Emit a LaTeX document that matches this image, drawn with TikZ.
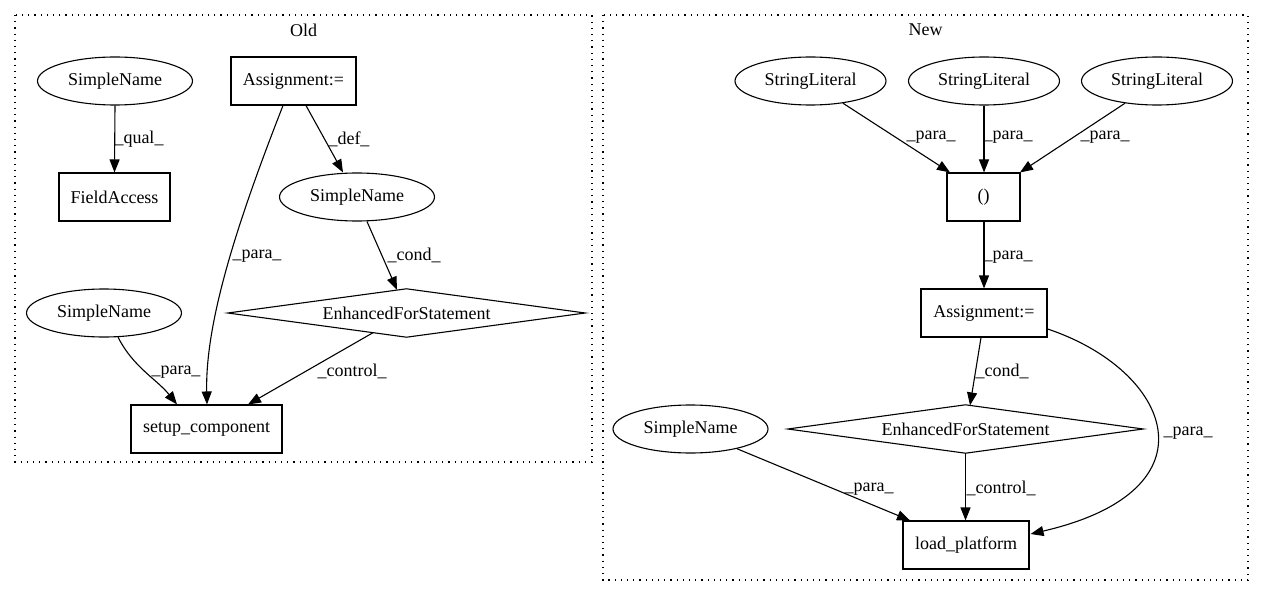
\documentclass[tikz,border=0pt]{standalone}
\usepackage{fontspec}
\setmainfont{Liberation Serif}
\usetikzlibrary{arrows.meta,shapes.geometric}
\begin{document}
\begin{tikzpicture}[x=1pt,y=-1pt,
  every node/.style={font=\fontsize{18}{21}\selectfont, inner sep=0pt},
  ell/.style={draw, ellipse, line width=1.1pt, minimum width=155pt, minimum height=48pt},
  box/.style={draw, rectangle, line width=1.1pt, minimum height=48pt},
  dia/.style={rectangle, minimum height=48pt},
  lbl/.style={},
  edge/.style={line width=1.1pt, -{Triangle[length=13pt,width=10pt]}},
  cluster/.style={line width=1.1pt, dash pattern=on 1.2pt off 5pt}]
\useasboundingbox (0,0) rectangle (1265,596);

% ---------- Old ----------
\draw[cluster] (15,15) rectangle (592,462);
\node (told) at (303.5,30) {Old};
\node[ell] (osn1) at (115,81) {SimpleName};
\node[box, minimum width=111pt] (ofa) at (114.5,197) {FieldAccess};
\node[box, minimum width=125pt] (oas) at (293.5,81) {Assignment:=};
\node[ell] (osn2) at (357,197) {SimpleName};
\node[dia, minimum width=357pt] (ofor) at (406.5,313) {EnhancedForStatement};
\draw[line width=1.1pt] (ofor.west) -- (ofor.north) -- (ofor.east) -- (ofor.south) -- cycle;
\node[ell] (osn3) at (104,313) {SimpleName};
\node[box, minimum width=151pt] (osc) at (206.5,429) {setup\_component};

\draw[edge] (osn1.south) -- (ofa.north);
\node[lbl] (lq) at (139,139) {\_qual\_};
\draw[edge] ([xshift=12.5pt]oas.south) -- ([xshift=-14pt]osn2.north);
\node[lbl] (ld) at (349,139) {\_def\_};
\draw[edge] ([xshift=-10.5pt]oas.south) .. controls +(-43,110) and +(-2,-85) .. ([xshift=0.5pt]osc.north);
\node[lbl] (lp1) at (257,256) {\_para\_};
\draw[edge] ([xshift=10pt]osn2.south) -- ([xshift=-9.5pt,yshift=-1pt]ofor.north);
\node[lbl] (lc1) at (414,255) {\_cond\_};
\draw[edge] ([xshift=14pt,yshift=0.5pt]osn3.south) .. controls +(15,30) and +(-20,-25) .. ([xshift=-29.5pt]osc.north);
\node[lbl] (lp2) at (176,372) {\_para\_};
\draw[edge] ([xshift=-33.5pt,yshift=4.5pt]ofor.south) -- ([xshift=41.5pt]osc.north);
\node[lbl] (lct1) at (352,371) {\_control\_};

% ---------- New ----------
\draw[cluster] (603,15) rectangle (1248,580);
\node (tnew) at (925.5,30) {New};
\node[ell, minimum width=151pt] (nsl1) at (810.5,81) {StringLiteral};
\node[ell, minimum width=151pt] (nsl2) at (984,81) {StringLiteral};
\node[ell, minimum width=151pt] (nsl3) at (1157,81) {StringLiteral};
\node[box, minimum width=73pt] (npar) at (983.5,197) {()};
\node[box, minimum width=126pt] (nas) at (984,313) {Assignment:=};
\node[dia, minimum width=355pt] (nfor) at (965.5,429) {EnhancedForStatement};
\draw[line width=1.1pt] (nfor.west) -- (nfor.north) -- (nfor.east) -- (nfor.south) -- cycle;
\node[ell] (nsn) at (690.5,429) {SimpleName};
\node[box, minimum width=126pt] (nlp) at (966,545) {load\_platform};

\draw[edge] ([xshift=32.5pt,yshift=2.3pt]nsl1.south) -- ([xshift=-33.5pt]npar.north);
\node[lbl] (ln1) at (931,137) {\_para\_};
\draw[edge] (nsl2.south) -- ([xshift=0.5pt]npar.north);
\node[lbl] (ln2) at (1008,137) {\_para\_};
\draw[edge] ([xshift=-32pt,yshift=2.3pt]nsl3.south) -- ([xshift=36.5pt]npar.north);
\node[lbl] (ln3) at (1105,137) {\_para\_};
\draw[edge] ([xshift=0.5pt]npar.south) -- (nas.north);
\node[lbl] (ln4) at (1008,257) {\_para\_};
\draw[edge] ([xshift=-3pt]nas.south) -- ([xshift=4.5pt,yshift=-0.6pt]nfor.north);
\node[lbl] (ln5) at (1002,371) {\_cond\_};
\draw[edge] (nfor.south) -- ([xshift=-0.5pt]nlp.north);
\node[lbl] (ln6) at (1001,488) {\_control\_};
\draw[edge] ([xshift=46.5pt,yshift=4.8pt]nsn.south) -- ([xshift=-56pt]nlp.north);
\node[lbl] (ln7) at (869,489) {\_para\_};
\draw[edge] ([yshift=-16pt]nas.east) .. controls +(123,41) and +(190,-44) .. ([xshift=1pt,yshift=11pt]nlp.east);
\node[lbl] (ln8) at (1188,433) {\_para\_};
\end{tikzpicture}
\end{document}
